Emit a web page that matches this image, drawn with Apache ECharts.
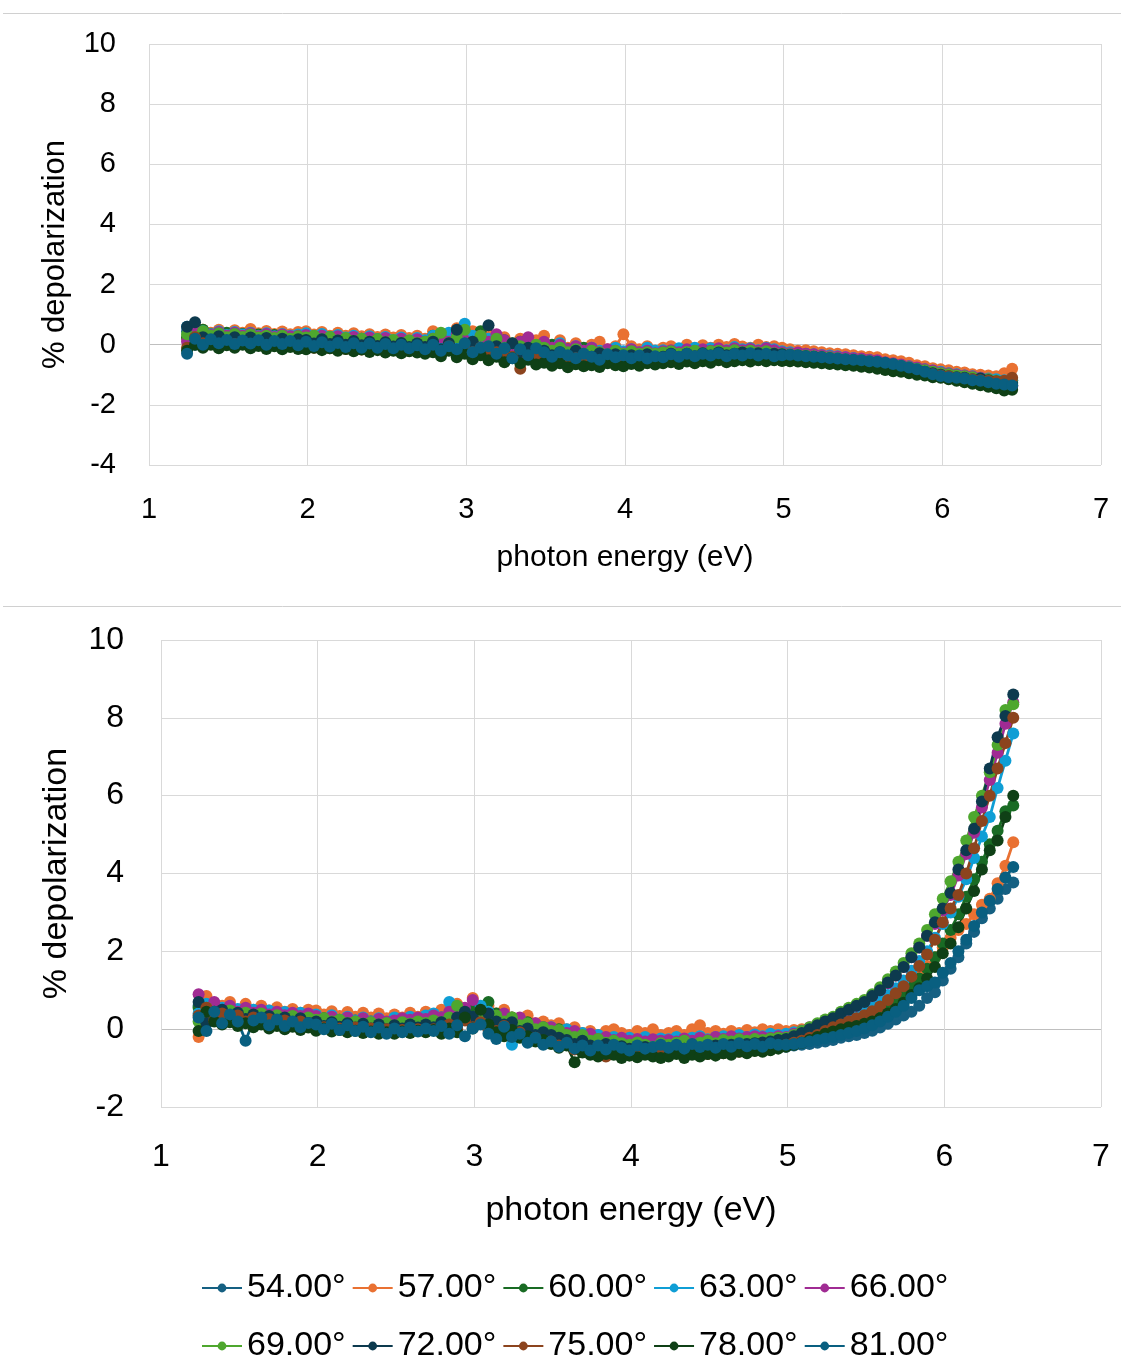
<!DOCTYPE html>
<html>
<head>
<meta charset="utf-8">
<script src="https://cdn.jsdelivr.net/npm/echarts@6/dist/echarts.min.js"></script>
<style>
html,body{margin:0;padding:0;background:#fff;}
#chart{width:1121px;height:1359px;}
</style>
</head>
<body>
<div id="chart"></div>
<script>
// photon energy (eV)
const xs = [
1.24,1.29,1.34,1.39,1.44,1.49,1.54,1.59,1.64,1.69,1.74,1.79,1.84,1.89,1.94,
1.99,2.04,2.09,2.14,2.19,2.24,2.29,2.34,2.39,2.44,2.49,2.54,2.59,2.64,2.69,
2.74,2.79,2.84,2.89,2.94,2.99,3.04,3.09,3.14,3.19,3.24,3.29,3.34,3.39,3.44,
3.49,3.54,3.59,3.64,3.69,3.74,3.79,3.84,3.89,3.94,3.99,4.04,4.09,4.14,4.19,
4.24,4.29,4.34,4.39,4.44,4.49,4.54,4.59,4.64,4.69,4.74,4.79,4.84,4.89,4.94,
4.99,5.04,5.09,5.14,5.19,5.24,5.29,5.34,5.39,5.44,5.49,5.54,5.59,5.64,5.69,
5.74,5.79,5.84,5.89,5.94,5.99,6.04,6.09,6.14,6.19,6.24,6.29,6.34,6.39,6.44];

const seriesNames = ['54.00°','57.00°','60.00°','63.00°','66.00°','69.00°','72.00°','75.00°','78.00°','81.00°'];
const seriesColors = ['#156082','#E97132','#196B24','#0F9ED5','#A02B93','#4EA72E','#0D3A4E','#8C441E','#0F4016','#095F80'];

const xTicks = [1,2,3,4,5,6,7];
const yTicksTop = [-4,-2,0,2,4,6,8,10];
const yTicksBottom = [-2,0,2,4,6,8,10];

// ---- upper chart: % depolarization ----
const top54 = [
0.45,0.0,0.3,0.15,0.3,0.1,0.32,0.18,0.25,0.12,0.26,0.1,0.22,0.1,0.2,
0.22,0.08,0.2,0.05,0.18,0.02,0.16,0.04,0.12,0.0,0.1,-0.02,0.08,-0.04,0.06,
0.1,-0.1,0.2,0.0,-0.15,0.25,-0.05,0.15,-0.15,0.05,-0.2,0.0,-0.15,-0.3,-0.05,
-0.1,-0.35,-0.15,-0.25,-0.4,-0.2,-0.35,-0.25,-0.45,-0.28,-0.35,-0.4,-0.25,-0.35,-0.25,
-0.35,-0.25,-0.4,-0.25,-0.35,-0.28,-0.22,-0.32,-0.24,-0.3,-0.22,-0.28,-0.24,-0.32,-0.26,
-0.25,-0.3,-0.26,-0.3,-0.35,-0.3,-0.36,-0.4,-0.38,-0.45,-0.42,-0.48,-0.5,-0.55,-0.6,
-0.65,-0.72,-0.75,-0.8,-0.82,-0.9,-0.95,-0.98,-1.0,-1.05,-1.08,-1.1,-1.15,-1.2,-1.18];
const top57 = [
0.2,0.6,0.5,0.4,0.5,0.38,0.48,0.4,0.52,0.38,0.46,0.36,0.44,0.35,0.42,
0.45,0.34,0.42,0.3,0.4,0.3,0.38,0.28,0.35,0.26,0.34,0.24,0.32,0.22,0.3,
0.2,0.45,0.15,0.35,0.55,0.2,0.45,0.1,0.3,0.05,0.25,-0.05,0.2,-0.1,0.15,
0.3,-0.05,0.15,-0.1,0.05,-0.15,0.0,0.1,-0.15,-0.05,0.35,-0.05,-0.15,-0.05,-0.2,
-0.1,-0.05,-0.15,0.0,-0.12,-0.02,-0.1,0.0,-0.08,0.02,-0.06,-0.1,0.0,-0.08,-0.05,
-0.1,-0.15,-0.2,-0.18,-0.22,-0.25,-0.28,-0.3,-0.32,-0.35,-0.38,-0.4,-0.42,-0.48,-0.52,
-0.55,-0.6,-0.68,-0.72,-0.78,-0.82,-0.85,-0.9,-0.92,-0.98,-1.0,-1.02,-1.05,-0.95,-0.8];
const top60 = [
0.25,0.45,0.5,0.35,0.32,0.4,0.28,0.36,0.26,0.34,0.24,0.32,0.26,0.24,0.3,
0.2,0.28,0.16,0.26,0.14,0.22,0.12,0.2,0.1,0.18,0.14,0.08,0.18,0.04,0.12,
0.08,0.3,-0.05,0.15,0.25,-0.1,0.1,0.45,0.05,-0.05,0.15,-0.15,0.1,-0.1,-0.15,
-0.1,0.0,-0.2,-0.15,-0.3,-0.1,-0.25,-0.35,-0.2,-0.25,-0.3,-0.22,-0.35,-0.25,-0.3,
-0.26,-0.22,-0.3,-0.24,-0.18,-0.26,-0.22,-0.18,-0.24,-0.2,-0.26,-0.18,-0.22,-0.24,-0.2,
-0.28,-0.3,-0.32,-0.35,-0.33,-0.38,-0.4,-0.42,-0.46,-0.48,-0.5,-0.55,-0.58,-0.62,-0.68,
-0.72,-0.78,-0.82,-0.88,-0.9,-0.95,-1.0,-1.05,-1.08,-1.12,-1.15,-1.2,-1.25,-1.3,-1.35];
const top63 = [
0.6,0.3,0.45,0.35,0.45,0.32,0.42,0.34,0.4,0.3,0.38,0.28,0.36,0.3,0.34,
0.38,0.28,0.36,0.26,0.32,0.24,0.3,0.2,0.28,0.18,0.26,0.16,0.24,0.14,0.22,
0.15,0.3,0.1,0.4,0.15,0.7,0.3,0.1,0.2,-0.05,0.1,0.0,-0.1,0.05,-0.15,
0.0,-0.15,0.05,-0.2,-0.05,-0.25,-0.1,-0.2,-0.25,-0.1,-0.22,-0.15,-0.25,-0.1,-0.2,
-0.18,-0.22,-0.12,-0.2,-0.1,-0.18,-0.12,-0.15,-0.18,-0.08,-0.15,-0.12,-0.18,-0.1,-0.15,
-0.22,-0.25,-0.28,-0.3,-0.32,-0.34,-0.36,-0.38,-0.42,-0.44,-0.48,-0.5,-0.55,-0.6,-0.64,
-0.68,-0.72,-0.78,-0.82,-0.86,-0.9,-0.95,-0.98,-1.02,-1.05,-1.1,-1.12,-1.15,-1.18,-1.2];
const top66 = [
0.1,0.5,0.4,0.32,0.42,0.3,0.4,0.3,0.38,0.28,0.36,0.26,0.34,0.28,0.3,
0.32,0.24,0.3,0.2,0.28,0.2,0.26,0.16,0.24,0.14,0.22,0.12,0.2,0.12,0.18,
0.1,0.2,0.25,0.1,0.35,0.15,0.05,0.3,0.1,0.35,0.15,-0.05,0.1,0.25,-0.05,
0.1,-0.1,0.0,-0.15,-0.05,-0.2,-0.1,-0.25,-0.15,-0.2,-0.28,-0.15,-0.25,-0.2,-0.28,
-0.22,-0.18,-0.25,-0.15,-0.22,-0.15,-0.2,-0.12,-0.2,-0.12,-0.18,-0.14,-0.2,-0.12,-0.18,
-0.25,-0.28,-0.26,-0.3,-0.32,-0.35,-0.38,-0.4,-0.42,-0.45,-0.46,-0.5,-0.52,-0.58,-0.62,
-0.66,-0.72,-0.76,-0.82,-0.86,-0.92,-0.96,-1.0,-1.02,-1.06,-1.1,-1.15,-1.2,-1.3,-1.38];
const top69 = [
0.35,0.25,0.45,0.3,0.38,0.25,0.36,0.26,0.34,0.24,0.3,0.22,0.3,0.2,0.28,
0.24,0.3,0.18,0.26,0.14,0.22,0.12,0.2,0.1,0.18,0.08,0.16,0.06,0.14,0.06,
0.1,0.2,0.4,0.05,0.25,0.5,0.1,0.3,-0.05,0.2,-0.1,0.05,-0.05,-0.15,0.0,
-0.1,-0.2,-0.1,-0.25,-0.15,-0.3,-0.2,-0.25,-0.32,-0.2,-0.3,-0.22,-0.3,-0.25,-0.3,
-0.26,-0.22,-0.3,-0.24,-0.2,-0.28,-0.22,-0.2,-0.26,-0.18,-0.24,-0.2,-0.26,-0.22,-0.28,
-0.3,-0.32,-0.34,-0.36,-0.38,-0.4,-0.42,-0.45,-0.48,-0.5,-0.52,-0.55,-0.58,-0.62,-0.66,
-0.7,-0.75,-0.8,-0.85,-0.9,-0.95,-0.98,-1.02,-1.05,-1.08,-1.12,-1.15,-1.2,-1.22,-1.26];
const top72 = [
0.6,0.75,0.25,0.15,0.28,0.12,0.25,0.1,0.24,0.1,0.22,0.08,0.2,0.06,0.18,
0.16,0.04,0.18,0.02,0.14,0.0,0.12,-0.02,0.1,-0.04,0.08,-0.06,0.06,-0.08,0.04,
-0.08,0.1,-0.15,0.05,0.5,-0.1,0.1,-0.2,0.65,-0.05,-0.15,0.05,-0.25,-0.1,-0.3,
-0.2,-0.35,-0.25,-0.4,-0.2,-0.35,-0.4,-0.28,-0.45,-0.32,-0.42,-0.35,-0.45,-0.32,-0.42,
-0.4,-0.3,-0.42,-0.3,-0.38,-0.28,-0.36,-0.26,-0.35,-0.3,-0.26,-0.34,-0.28,-0.36,-0.3,
-0.32,-0.34,-0.36,-0.38,-0.4,-0.42,-0.45,-0.48,-0.5,-0.52,-0.55,-0.58,-0.6,-0.64,-0.68,
-0.74,-0.8,-0.85,-0.9,-0.95,-1.0,-1.05,-1.08,-1.1,-1.15,-1.12,-1.18,-1.22,-1.25,-1.3];
const top75 = [
-0.1,0.25,0.05,0.1,0.0,0.08,0.02,0.06,0.0,0.05,-0.02,0.02,-0.04,0.0,-0.05,
-0.04,-0.1,-0.04,-0.12,-0.06,-0.14,-0.08,-0.16,-0.1,-0.16,-0.12,-0.18,-0.14,-0.2,-0.16,
-0.2,-0.1,-0.3,-0.05,-0.35,-0.15,-0.25,-0.1,-0.4,-0.25,-0.35,-0.4,-0.8,-0.45,-0.35,
-0.45,-0.5,-0.4,-0.55,-0.45,-0.6,-0.5,-0.55,-0.58,-0.5,-0.6,-0.52,-0.58,-0.5,-0.55,
-0.55,-0.5,-0.56,-0.48,-0.54,-0.46,-0.52,-0.45,-0.5,-0.44,-0.48,-0.46,-0.5,-0.44,-0.46,
-0.45,-0.44,-0.46,-0.47,-0.48,-0.5,-0.52,-0.54,-0.56,-0.58,-0.6,-0.62,-0.65,-0.68,-0.72,
-0.78,-0.84,-0.88,-0.92,-0.98,-1.02,-1.05,-1.1,-1.12,-1.15,-1.18,-1.2,-1.22,-1.2,-1.1];
const top78 = [
-0.2,0.0,-0.1,0.0,-0.12,-0.02,-0.1,0.0,-0.12,-0.04,-0.14,-0.05,-0.15,-0.08,-0.14,
-0.15,-0.1,-0.18,-0.12,-0.2,-0.14,-0.22,-0.16,-0.24,-0.18,-0.26,-0.2,-0.28,-0.22,-0.26,
-0.3,-0.25,-0.38,-0.2,-0.42,-0.3,-0.48,-0.35,-0.52,-0.4,-0.58,-0.45,-0.62,-0.5,-0.66,
-0.6,-0.7,-0.62,-0.75,-0.65,-0.72,-0.68,-0.74,-0.62,-0.68,-0.72,-0.64,-0.7,-0.62,-0.66,
-0.62,-0.58,-0.64,-0.56,-0.62,-0.55,-0.6,-0.52,-0.58,-0.55,-0.52,-0.56,-0.52,-0.55,-0.52,
-0.54,-0.55,-0.56,-0.58,-0.6,-0.62,-0.64,-0.66,-0.68,-0.7,-0.73,-0.76,-0.8,-0.84,-0.88,
-0.9,-0.95,-1.0,-1.02,-1.08,-1.1,-1.15,-1.2,-1.25,-1.3,-1.35,-1.4,-1.45,-1.52,-1.5];
const top81 = [
-0.3,0.2,0.0,0.18,0.05,0.16,0.02,0.14,0.04,0.15,0.0,0.12,0.02,0.12,-0.02,
0.1,-0.04,0.08,-0.06,0.06,-0.08,0.05,-0.1,0.04,-0.1,0.02,-0.12,0.0,-0.12,-0.02,
-0.15,0.0,-0.2,-0.05,-0.15,0.05,-0.25,-0.1,-0.05,-0.3,-0.12,-0.45,-0.15,-0.35,-0.12,
-0.25,-0.4,-0.25,-0.35,-0.45,-0.3,-0.4,-0.5,-0.32,-0.42,-0.35,-0.45,-0.36,-0.46,-0.38,
-0.42,-0.32,-0.4,-0.3,-0.38,-0.3,-0.36,-0.28,-0.38,-0.3,-0.36,-0.28,-0.36,-0.3,-0.38,
-0.35,-0.33,-0.36,-0.38,-0.4,-0.42,-0.44,-0.46,-0.48,-0.5,-0.52,-0.55,-0.57,-0.6,-0.64,
-0.7,-0.76,-0.82,-0.9,-0.98,-1.04,-1.08,-1.1,-1.12,-1.18,-1.2,-1.25,-1.3,-1.32,-1.36];

// ---- lower chart: % depolarization ----
const bot54 = [
0.6,0.15,0.45,0.25,0.38,0.2,0.32,0.18,0.28,0.15,0.26,0.14,0.22,0.12,0.2,
0.1,0.18,0.05,0.14,0.02,0.12,0.0,0.1,-0.02,0.06,-0.04,0.05,-0.02,0.08,0.0,
0.1,-0.05,0.18,0.02,0.25,0.08,0.35,0.02,0.18,-0.05,0.1,-0.1,-0.12,-0.1,-0.25,
-0.2,-0.3,-0.25,-0.35,-0.4,-0.32,-0.48,-0.42,-0.52,-0.45,-0.5,-0.46,-0.52,-0.45,-0.5,
-0.48,-0.52,-0.44,-0.5,-0.46,-0.52,-0.44,-0.48,-0.42,-0.48,-0.42,-0.46,-0.42,-0.45,-0.4,
-0.45,-0.42,-0.4,-0.38,-0.35,-0.32,-0.28,-0.22,-0.18,-0.15,-0.1,-0.04,0.04,0.14,0.25,
0.35,0.45,0.6,0.8,0.95,1.25,1.55,1.85,2.2,2.5,2.85,3.1,3.35,3.6,3.77];
const bot57 = [
-0.2,0.85,0.65,0.6,0.7,0.5,0.65,0.5,0.6,0.48,0.56,0.45,0.52,0.42,0.5,
0.48,0.38,0.46,0.34,0.44,0.32,0.42,0.3,0.4,0.28,0.38,0.3,0.42,0.32,0.45,
0.35,0.5,0.4,0.65,0.5,0.8,0.45,0.6,0.4,0.5,0.3,0.25,0.35,0.15,0.2,
0.1,0.15,0.0,0.05,-0.1,-0.05,-0.15,-0.05,0.0,-0.1,-0.15,-0.05,-0.1,0.0,-0.15,
-0.1,-0.05,-0.15,0.0,0.1,-0.1,-0.05,-0.12,-0.05,-0.1,-0.02,-0.08,0.0,-0.05,0.0,
-0.05,-0.02,0.0,0.02,0.05,0.08,0.12,0.18,0.25,0.3,0.38,0.45,0.55,0.68,0.82,
1.0,1.2,1.4,1.62,1.85,2.1,2.35,2.55,2.7,2.95,3.2,3.35,3.75,4.2,4.8];
const bot60 = [
0.55,0.35,0.62,0.45,0.42,0.36,0.46,0.36,0.4,0.32,0.38,0.3,0.34,0.26,0.3,
0.24,0.28,0.2,0.24,0.16,0.22,0.14,0.2,0.12,0.18,0.12,0.16,0.18,0.12,0.2,
0.18,0.3,0.12,0.4,0.25,0.5,0.3,0.7,0.4,0.25,0.3,0.1,0.18,0.0,0.05,
-0.1,0.0,-0.2,-0.1,-0.25,-0.2,-0.35,-0.3,-0.4,-0.3,-0.36,-0.4,-0.35,-0.45,-0.38,
-0.4,-0.35,-0.45,-0.4,-0.35,-0.42,-0.35,-0.4,-0.32,-0.38,-0.32,-0.35,-0.3,-0.34,-0.3,
-0.3,-0.27,-0.24,-0.18,-0.1,-0.05,0.0,0.08,0.15,0.2,0.28,0.36,0.48,0.6,0.75,
0.92,1.1,1.3,1.55,1.85,2.2,2.55,2.95,3.4,3.85,4.3,4.75,5.1,5.6,5.75];
const bot63 = [
0.4,0.65,0.5,0.55,0.45,0.52,0.42,0.5,0.4,0.48,0.36,0.44,0.34,0.42,0.32,
0.38,0.26,0.36,0.24,0.32,0.22,0.3,0.2,0.28,0.18,0.3,0.22,0.32,0.24,0.35,
0.4,0.3,0.7,0.45,0.38,0.3,0.6,0.45,0.3,0.15,-0.4,0.2,0.1,0.05,0.0,
0.05,-0.05,0.0,-0.15,-0.1,-0.2,-0.15,-0.25,-0.2,-0.3,-0.22,-0.28,-0.2,-0.3,-0.24,
-0.26,-0.2,-0.3,-0.22,-0.18,-0.26,-0.2,-0.18,-0.24,-0.15,-0.2,-0.14,-0.18,-0.12,-0.15,
-0.12,-0.08,-0.04,0.0,0.05,0.1,0.15,0.25,0.32,0.4,0.5,0.6,0.72,0.88,1.05,
1.25,1.5,1.75,2.0,2.35,2.7,3.0,3.4,3.85,4.4,4.95,5.45,6.2,6.9,7.6];
const bot66 = [
0.9,0.45,0.7,0.5,0.6,0.45,0.55,0.42,0.5,0.38,0.45,0.36,0.42,0.34,0.4,
0.34,0.26,0.32,0.22,0.3,0.2,0.28,0.18,0.26,0.2,0.22,0.28,0.24,0.3,0.26,
0.35,0.3,0.45,0.4,0.55,0.75,0.45,0.38,0.25,0.4,0.2,0.3,0.1,0.15,0.05,
0.05,-0.05,-0.1,-0.05,-0.18,-0.12,-0.25,-0.2,-0.28,-0.22,-0.3,-0.25,-0.32,-0.26,-0.3,
-0.28,-0.32,-0.24,-0.3,-0.22,-0.28,-0.2,-0.25,-0.18,-0.24,-0.2,-0.18,-0.2,-0.22,-0.18,
-0.2,-0.12,-0.05,0.05,0.12,0.2,0.3,0.4,0.5,0.6,0.72,0.85,1.0,1.18,1.38,
1.6,1.85,2.1,2.4,2.7,3.05,3.45,3.95,4.5,5.05,5.7,6.4,7.1,7.85,8.4];
const bot69 = [
0.2,0.55,0.45,0.4,0.48,0.36,0.42,0.33,0.4,0.3,0.36,0.28,0.34,0.26,0.3,
0.24,0.28,0.2,0.24,0.16,0.2,0.14,0.18,0.12,0.16,0.1,0.18,0.14,0.2,0.16,
0.22,0.18,0.3,0.6,0.4,0.3,0.45,0.25,0.35,0.2,0.3,0.1,0.15,0.0,0.05,
-0.05,-0.02,-0.15,-0.2,-0.15,-0.3,-0.25,-0.35,-0.3,-0.36,-0.4,-0.34,-0.4,-0.45,-0.36,
-0.4,-0.35,-0.3,-0.4,-0.35,-0.3,-0.36,-0.28,-0.32,-0.26,-0.3,-0.25,-0.28,-0.24,-0.22,
-0.22,-0.15,-0.05,0.05,0.15,0.25,0.32,0.45,0.55,0.65,0.75,0.9,1.08,1.28,1.48,
1.7,1.95,2.2,2.55,2.95,3.35,3.8,4.3,4.85,5.45,6.0,6.6,7.3,8.2,8.35];
const bot72 = [
0.7,0.15,0.45,0.5,0.28,0.42,0.26,0.38,0.24,0.34,0.2,0.3,0.18,0.28,0.16,
0.2,0.08,0.18,0.06,0.15,0.04,0.14,0.02,0.12,0.0,0.1,0.02,0.12,0.04,0.12,
0.05,0.18,0.1,0.3,0.45,0.32,0.15,0.4,0.2,0.12,0.18,-0.05,0.02,-0.15,-0.08,
-0.15,-0.22,-0.28,-0.38,-0.3,-0.42,-0.48,-0.38,-0.52,-0.44,-0.5,-0.55,-0.46,-0.52,-0.48,
-0.52,-0.46,-0.5,-0.44,-0.52,-0.46,-0.42,-0.48,-0.4,-0.45,-0.38,-0.36,-0.34,-0.32,-0.28,
-0.25,-0.18,-0.1,0.0,0.1,0.2,0.28,0.4,0.5,0.6,0.7,0.85,1.0,1.2,1.38,
1.6,1.85,2.1,2.4,2.75,3.1,3.5,4.1,4.6,5.15,5.85,6.7,7.5,8.05,8.6];
const bot75 = [
0.35,0.55,0.22,0.4,0.25,0.35,0.2,0.3,0.18,0.26,0.14,0.22,0.12,0.2,0.1,
0.1,0.05,0.06,0.02,0.0,0.04,-0.04,0.02,-0.06,0.0,-0.08,-0.02,-0.06,0.0,-0.04,
0.0,-0.05,0.12,0.0,0.22,0.05,0.18,0.0,-0.05,0.08,-0.15,-0.08,-0.28,-0.22,-0.38,
-0.32,-0.42,-0.38,-0.52,-0.56,-0.6,-0.66,-0.7,-0.6,-0.66,-0.62,-0.68,-0.6,-0.65,-0.62,
-0.65,-0.58,-0.66,-0.6,-0.58,-0.64,-0.55,-0.62,-0.52,-0.58,-0.52,-0.55,-0.48,-0.5,-0.44,
-0.4,-0.35,-0.3,-0.22,-0.15,-0.05,0.05,0.12,0.2,0.28,0.36,0.46,0.58,0.75,0.92,
1.1,1.35,1.62,1.92,2.3,2.75,3.1,3.45,4.0,4.65,5.35,6.0,6.7,7.35,8.0];
const bot78 = [
-0.05,0.45,0.2,0.12,0.18,0.08,0.15,0.05,0.12,0.02,0.08,0.0,0.06,-0.02,0.04,
-0.04,0.02,-0.06,-0.02,-0.08,-0.04,-0.1,-0.06,-0.12,-0.08,-0.12,-0.06,-0.1,-0.04,-0.08,
-0.02,-0.12,0.02,-0.08,0.3,0.02,0.5,0.12,-0.08,-0.18,-0.02,-0.22,-0.18,-0.32,-0.28,
-0.38,-0.48,-0.42,-0.85,-0.6,-0.66,-0.7,-0.64,-0.66,-0.74,-0.68,-0.72,-0.66,-0.7,-0.74,
-0.7,-0.64,-0.74,-0.66,-0.7,-0.64,-0.68,-0.62,-0.66,-0.58,-0.62,-0.56,-0.58,-0.54,-0.5,
-0.45,-0.4,-0.35,-0.28,-0.2,-0.12,-0.06,0.0,0.05,0.08,0.14,0.2,0.28,0.4,0.52,
0.68,0.88,1.05,1.3,1.6,1.95,2.2,2.62,3.1,3.55,4.1,4.6,4.85,5.45,6.0];
const bot81 = [
0.3,-0.05,0.45,0.15,0.38,0.2,-0.3,0.22,0.3,0.1,0.25,0.08,0.2,0.05,0.16,
0.12,0.0,0.14,-0.02,0.1,-0.05,0.06,-0.08,0.04,-0.12,0.02,-0.08,0.04,-0.06,0.02,
-0.05,0.08,-0.12,0.1,-0.18,0.02,0.12,-0.12,-0.25,0.06,-0.2,-0.12,-0.35,-0.22,-0.4,
-0.32,-0.45,-0.35,-0.5,-0.42,-0.55,-0.42,-0.52,-0.4,-0.48,-0.55,-0.42,-0.5,-0.46,-0.4,
-0.48,-0.4,-0.5,-0.38,-0.46,-0.4,-0.48,-0.38,-0.45,-0.36,-0.44,-0.38,-0.45,-0.36,-0.4,
-0.4,-0.38,-0.35,-0.32,-0.28,-0.24,-0.2,-0.15,-0.1,-0.05,0.02,0.1,0.2,0.32,0.45,
0.6,0.8,1.0,1.1,1.2,1.45,1.7,2.0,2.3,2.65,3.0,3.3,3.6,3.9,4.17];

const topSets = [top54,top57,top60,top63,top66,top69,top72,top75,top78,top81];
const botSets = [bot54,bot57,bot60,bot63,bot66,bot69,bot72,bot75,bot78,bot81];

const FONT = '"Liberation Sans", Arial, sans-serif';
const GRID = '#d9d9d9';
const ZERO = '#bfbfbf';

function pairs(ys){ return xs.map((x,i)=>[x, ys[i]]); }
function zeroColors(ticks){ return ticks.map(t => t === 0 ? ZERO : GRID); }

const series = [];
[[topSets,0],[botSets,1]].forEach(([sets,gi])=>{
  sets.forEach((ys,i)=>{
    series.push({
      name: seriesNames[i], type:'line', xAxisIndex:gi, yAxisIndex:gi,
      data: pairs(ys), symbol:'circle', symbolSize:12, showSymbol:true,
      lineStyle:{width:2.8, color:seriesColors[i]},
      itemStyle:{color:seriesColors[i]},
      emphasis:{disabled:true}, animation:false
    });
  });
});

function xAxisCfg(gi, fs, margin, nameFs, gap){
  return {
    type:'value', gridIndex:gi, min:xTicks[0], max:xTicks[xTicks.length-1], interval:1,
    axisLine:{show:false}, axisTick:{show:false},
    splitLine:{show:true, lineStyle:{color:GRID, width:1}},
    axisLabel:{fontSize:fs, color:'#000', fontFamily:FONT, margin:margin},
    name:'photon energy (eV)', nameLocation:'middle', nameGap:gap,
    nameTextStyle:{fontSize:nameFs, color:'#000', fontFamily:FONT}
  };
}
function yAxisCfg(gi, ticks, fs, margin, nameFs, gap){
  return {
    type:'value', gridIndex:gi, min:ticks[0], max:ticks[ticks.length-1], interval:2,
    axisLine:{show:false}, axisTick:{show:false},
    splitLine:{show:true, lineStyle:{color:zeroColors(ticks), width:1}},
    axisLabel:{fontSize:fs, color:'#000', fontFamily:FONT, margin:margin},
    name:'% depolarization', nameLocation:'middle', nameGap:gap, nameRotate:90,
    nameTextStyle:{fontSize:nameFs, color:'#000', fontFamily:FONT}
  };
}

const legendCommon = {
  orient:'horizontal', itemWidth:40, itemHeight:11, itemGap:6,
  textStyle:{fontSize:34, color:'#000', fontFamily:FONT},
  selectedMode:false
};

const option = {
  backgroundColor:'#fff',
  animation:false,
  grid:[
    {left:149, top:44, width:952, height:421, containLabel:false},
    {left:161, top:640, width:940, height:467, containLabel:false}
  ],
  xAxis:[ xAxisCfg(0, 29, 30, 30, 78), xAxisCfg(1, 32, 34, 34, 87) ],
  yAxis:[ yAxisCfg(0, yTicksTop, 29, 33, 31, 78), yAxisCfg(1, yTicksBottom, 32, 37, 34, 87) ],
  legend:[
    Object.assign({left:196, top:1266, data:seriesNames.slice(0,5)}, legendCommon),
    Object.assign({left:196, top:1324, data:seriesNames.slice(5)}, legendCommon)
  ],
  graphic:[
    {type:'line', shape:{x1:3,y1:13.5,x2:1121,y2:13.5}, style:{stroke:'#d0d0d0', lineWidth:1}, silent:true},
    {type:'line', shape:{x1:3,y1:606.5,x2:1121,y2:606.5}, style:{stroke:'#d0d0d0', lineWidth:1}, silent:true}
  ],
  series: series
};

const chart = echarts.init(document.getElementById('chart'), null, {renderer:'canvas'});
chart.setOption(option);
</script>
</body>
</html>
